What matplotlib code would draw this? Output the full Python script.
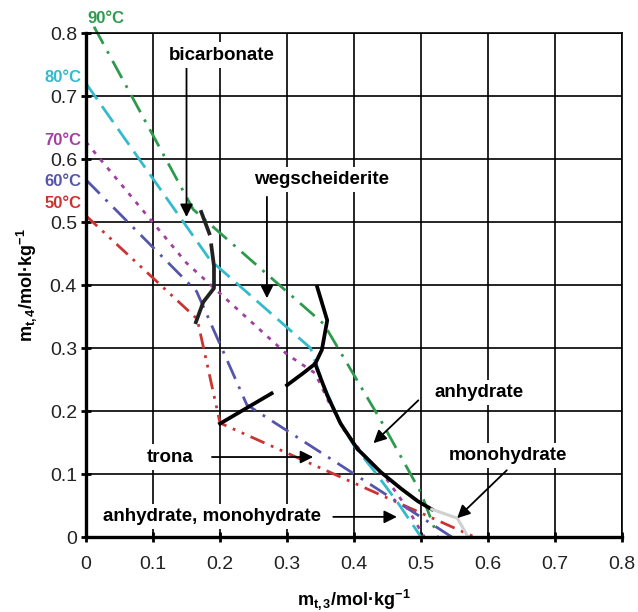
import matplotlib.pyplot as plt
import numpy as np

plt.rcParams['font.family'] = ['Liberation Sans', 'DejaVu Sans']
plt.rcParams['mathtext.fontset'] = 'custom'
plt.rcParams['mathtext.rm'] = 'Liberation Sans'
plt.rcParams['mathtext.bf'] = 'Liberation Sans:bold'
plt.rcParams['mathtext.it'] = 'Liberation Sans:italic'

nan = np.nan

# isotherms
t50_x = [0.0, 0.166, 0.2, 0.58]
t50_y = [0.51, 0.346, 0.181, 0.0]
t60_x = [0.0, 0.165, 0.24, 0.546]
t60_y = [0.567, 0.39, 0.21, 0.0]
t70_x = [0.0, 0.15, 0.3, 0.342, 0.362, 0.385, 0.415, 0.45, 0.48, 0.505]
t70_y = [0.627, 0.435, 0.29, 0.26, 0.215, 0.17, 0.13, 0.09, 0.045, 0.0]
t80_x = [0.0, 0.185, 0.335, 0.355, 0.378, 0.4, 0.43, 0.465, 0.5]
t80_y = [0.72, 0.44, 0.3, 0.24, 0.185, 0.145, 0.105, 0.055, 0.0]
t90_x = [0.012, 0.16, 0.355, 0.44, 0.5, 0.525]
t90_y = [0.81, 0.52, 0.338, 0.185, 0.07, 0.0]

# phase boundaries
bicarb_x = [0.172, 0.184, nan, 0.187, 0.191, 0.191, 0.175, 0.164]
bicarb_y = [0.516, 0.482, nan, 0.463, 0.43, 0.395, 0.373, 0.341]
trona_x = [0.2, 0.277, nan, 0.3, 0.324, 0.342]
trona_y = [0.18, 0.228, nan, 0.241, 0.26, 0.275]
wegs_x = [0.345, 0.36, 0.352, 0.342]
wegs_y = [0.397, 0.344, 0.297, 0.275]
anhyd_x = [0.342, 0.36, 0.38, 0.405, 0.44, 0.47, 0.495, 0.516]
anhyd_y = [0.275, 0.225, 0.18, 0.14, 0.103, 0.077, 0.057, 0.044]
mono_x = [0.516, 0.554, 0.565, 0.57]
mono_y = [0.044, 0.03, 0.01, 0.0]

temps = ['50°C', '60°C', '70°C', '80°C', '90°C']
colors = ['#cc3333', '#5555aa', '#a040a0', '#33bbcc', '#2e9a4e']
label_pos = [(-0.035, 0.529), (-0.035, 0.565), (-0.035, 0.63), (-0.035, 0.73), (0.03, 0.823)]

fig = plt.figure(figsize=(6.38, 6.12), dpi=100)
ax = fig.add_axes([0.1348, 0.1225, 0.8402, 0.8235])

lw = 2.0
ax.plot(t50_x, t50_y, color=colors[0], lw=lw, dashes=(5.5, 2.5, 1, 2.5, 1, 2.5))
ax.plot(t60_x, t60_y, color=colors[1], lw=lw, dashes=(7, 3, 1, 3))
ax.plot(t70_x, t70_y, color=colors[2], lw=lw, dashes=(1.5, 2.5))
ax.plot(t80_x, t80_y, color=colors[3], lw=lw, dashes=(7, 3))
ax.plot(t90_x, t90_y, color=colors[4], lw=lw, dashes=(7, 3, 1, 3), clip_on=False)

blk = 2.7
ax.plot(bicarb_x, bicarb_y, color='#222222', lw=blk)
ax.plot(trona_x, trona_y, color='black', lw=blk)
ax.plot(wegs_x, wegs_y, color='black', lw=blk)
ax.plot(anhyd_x, anhyd_y, color='black', lw=blk)
ax.plot(mono_x, mono_y, color='#d0d0d0', lw=2.2)

for t, c, (tx, ty) in zip(temps, colors, label_pos):
    ax.text(tx, ty, t, color=c, fontsize=12, fontweight='bold',
            ha='center', va='center', clip_on=False)

box = dict(facecolor='white', edgecolor='none', pad=3)
arrow = dict(arrowstyle='-|>', color='black', lw=1.3, mutation_scale=19,
             shrinkA=0, shrinkB=0)
ax.text(0.203, 0.765, 'bicarbonate', fontsize=13.5, fontweight='bold',
        ha='center', va='center', bbox=box, zorder=5)
ax.annotate('', xy=(0.15, 0.508), xytext=(0.15, 0.744), arrowprops=arrow)
ax.text(0.351, 0.567, 'wegscheiderite', fontsize=13.5, fontweight='bold',
        ha='center', va='center', bbox=box, zorder=5)
ax.annotate('', xy=(0.27, 0.379), xytext=(0.27, 0.54), arrowprops=arrow)
ax.text(0.125, 0.127, 'trona', fontsize=13.5, fontweight='bold',
        ha='center', va='center', bbox=box, zorder=5)
ax.annotate('', xy=(0.339, 0.127), xytext=(0.188, 0.127), arrowprops=arrow)
ax.text(0.587, 0.229, 'anhydrate', fontsize=13.5, fontweight='bold',
        ha='center', va='center', bbox=box, zorder=5)
ax.annotate('', xy=(0.429, 0.149), xytext=(0.496, 0.217), arrowprops=arrow)
ax.text(0.629, 0.13, 'monohydrate', fontsize=13.5, fontweight='bold',
        ha='center', va='center', bbox=box, zorder=5)
ax.annotate('', xy=(0.554, 0.03), xytext=(0.628, 0.106), arrowprops=arrow)
ax.text(0.188, 0.032, 'anhydrate, monohydrate', fontsize=13.5, fontweight='bold',
        ha='center', va='center', bbox=box, zorder=5)
ax.annotate('', xy=(0.464, 0.032), xytext=(0.369, 0.032), arrowprops=arrow)

ax.set_xlim(0, 0.8)
ax.set_ylim(0, 0.8)
ticks = np.arange(0, 0.81, 0.1)
ax.set_xticks(ticks)
ax.set_yticks(ticks)
ax.set_xticklabels(['0', '0.1', '0.2', '0.3', '0.4', '0.5', '0.6', '0.7', '0.8'])
ax.set_yticklabels(['0', '0.1', '0.2', '0.3', '0.4', '0.5', '0.6', '0.7', '0.8'])
ax.grid(True, color='black', lw=1.2)
ax.set_axisbelow(True)
for s in ['top', 'right']:
    ax.spines[s].set_linewidth(1.2)
for s in ['left', 'bottom']:
    ax.spines[s].set_linewidth(2.4)
ax.tick_params(axis='both', direction='inout', length=7, width=2, labelsize=14,
               labelcolor='#222222')
ax.tick_params(axis='x', pad=10)
ax.tick_params(axis='y', pad=3)
ax.tick_params(top=False, right=False)

ax.set_xlabel(r'$\mathbf{m_{t,3}}$/mol·kg$^{\mathbf{-1}}$', fontsize=13,
              fontweight='bold', labelpad=10)
ax.set_ylabel(r'$\mathbf{m_{t,4}}$/mol·kg$^{\mathbf{-1}}$', fontsize=13,
              fontweight='bold', labelpad=8)

fig.savefig('out.png', dpi=100)
